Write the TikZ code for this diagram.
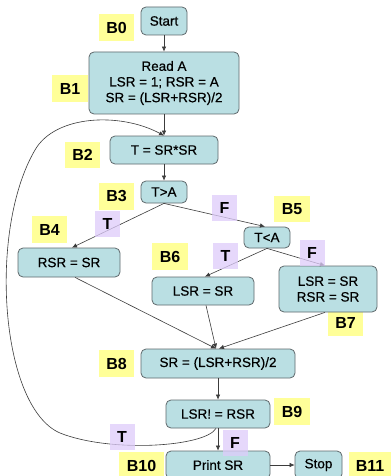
\documentclass[tikz,border=0pt]{standalone}
\usepackage{fontspec}
\setmainfont{Liberation Sans}
\newfontfamily\boxfont{Liberation Sans}[FakeBold=0.5]
\usetikzlibrary{arrows.meta}

\definecolor{boxfill}{RGB}{186,223,227}
\definecolor{boxline}{RGB}{95,105,108}
\definecolor{linegray}{RGB}{60,60,60}
\definecolor{tagyellow}{RGB}{255,255,153}
\definecolor{condviolet}{RGB}{222,204,250}

\begin{document}
\begin{tikzpicture}[x=1pt,y=-1pt,
  box/.style={draw=boxline, fill=boxfill, rounded corners=5pt, line width=0.8pt,
    inner sep=0pt, align=center, font=\boxfont\fontsize{13.5}{15.7}\selectfont},
  tag/.style={fill=tagyellow, inner sep=0pt, font=\bfseries\fontsize{16}{18}\selectfont},
  cond/.style={fill=condviolet, fill opacity=0.75, text opacity=1, inner sep=0pt,
    minimum width=25pt, minimum height=26pt, font=\bfseries\fontsize{16}{18}\selectfont},
  link/.style={draw=linegray, line width=0.6pt},
  arr/.style={link, -{Latex[length=5pt,width=4.5pt]}}]

\useasboundingbox (0,0) rectangle (391,476);
\clip (0,0) rectangle (391,476);
\fill[white] (0,0) rectangle (391,476);

% block labels
\node[tag, minimum width=35pt, minimum height=27pt] (l0) at (116.5,27.5) {B0};
\node[tag, minimum width=36pt, minimum height=27pt] (l1) at (70,88.5) {B1};
\node[tag, minimum width=35pt, minimum height=26pt] (l2) at (82.5,155) {B2};
\node[tag, minimum width=35pt, minimum height=27pt] (l3) at (116.5,196) {B3};
\node[tag, minimum width=35pt, minimum height=27pt] (l4) at (49.5,229.5) {B4};
\node[tag, minimum width=36pt, minimum height=26pt] (l5) at (292,209) {B5};
\node[tag, minimum width=36pt, minimum height=27pt] (l6) at (170,256.5) {B6};
\node[tag, minimum width=35pt, minimum height=27pt] (l7) at (345.5,322.5) {B7};
\node[tag, minimum width=35pt, minimum height=27pt] (l8) at (116.5,363.5) {B8};
\node[tag, minimum width=36pt, minimum height=27pt] (l9) at (292,411.5) {B9};
\node[tag, minimum width=45pt, minimum height=28pt] (l10) at (141.5,466) {B10};
\node[tag, minimum width=42pt, minimum height=28pt] (l11) at (370,466) {B11};

% blocks
\node[box, minimum width=46pt, minimum height=28pt] (b0) at (164,21) {Start};
\node[box, minimum width=150pt, minimum height=62pt] (b1) at (164,83)
  {Read A\\LSR = 1; RSR = A\\SR = (LSR+RSR)/2};
\node[box, minimum width=108pt, minimum height=28pt] (b2) at (164,150) {T = SR*SR};
\node[box, minimum width=46pt, minimum height=22pt] (b3) at (164,192) {T>A};
\node[box, minimum width=102pt, minimum height=29pt] (b4) at (69,262.5) {RSR = SR};
\node[box, minimum width=46pt, minimum height=21pt] (b5) at (267,237.5) {T<A};
\node[box, minimum width=102pt, minimum height=28pt] (b6) at (203,291) {LSR = SR};
\node[box, minimum width=98pt, minimum height=46pt] (b7) at (328,289) {LSR = SR\\RSR = SR};
\node[box, minimum width=154pt, minimum height=29pt] (b8) at (218,363.5) {SR = (LSR+RSR)/2};
\node[box, minimum width=104pt, minimum height=28pt] (b9) at (218,414) {LSR! = RSR};
\node[box, minimum width=104pt, minimum height=28pt] (b10) at (218,465) {Print SR};
\node[box, minimum width=47pt, minimum height=28pt] (b11) at (318.5,465) {Stop};

% control flow
\draw[arr] (b0) -- (b1);
\draw[arr] (b1) -- (b2);
\draw[arr] (b2) -- (b3);
\draw[arr] (b3.south) -- ([xshift=3pt]b4.north);
\draw[arr] (b3.south) -- ([xshift=-2pt]b5.north);
\draw[arr] (b5.south) -- ([xshift=2pt]b6.north);
\draw[arr] (b5.south) -- ([xshift=-3pt]b7.north);
\draw[arr] ([xshift=6pt]b4.south) -- ([xshift=-2pt]b8.north);
\draw[arr] ([xshift=3pt]b6.south) -- ([xshift=-2pt]b8.north);
\draw[arr] ([xshift=-3pt]b7.south) -- ([xshift=1pt]b8.north);
\draw[arr] (b8) -- (b9);
\draw[arr] (b9) -- (b10);
\draw[arr] (b10) -- (b11);
\draw[arr] ([xshift=-2pt]b9.south) .. controls (205,447) and (110,453) .. (60,433)
  .. controls (0,407) and (-12,230) .. (35,150)
  .. controls (55,115) and (120,112) .. (b2.north);

% branch conditions
\node[cond] (t1) at (107.5,224) {T};
\node[cond] (f1) at (224.5,207.5) {F};
\node[cond] (t2) at (225.5,256) {T};
\node[cond] (f2) at (312,252.5) {F};
\node[cond] (t3) at (122,437) {T};
\node[cond] (f3) at (235,443) {F};
\end{tikzpicture}
\end{document}
